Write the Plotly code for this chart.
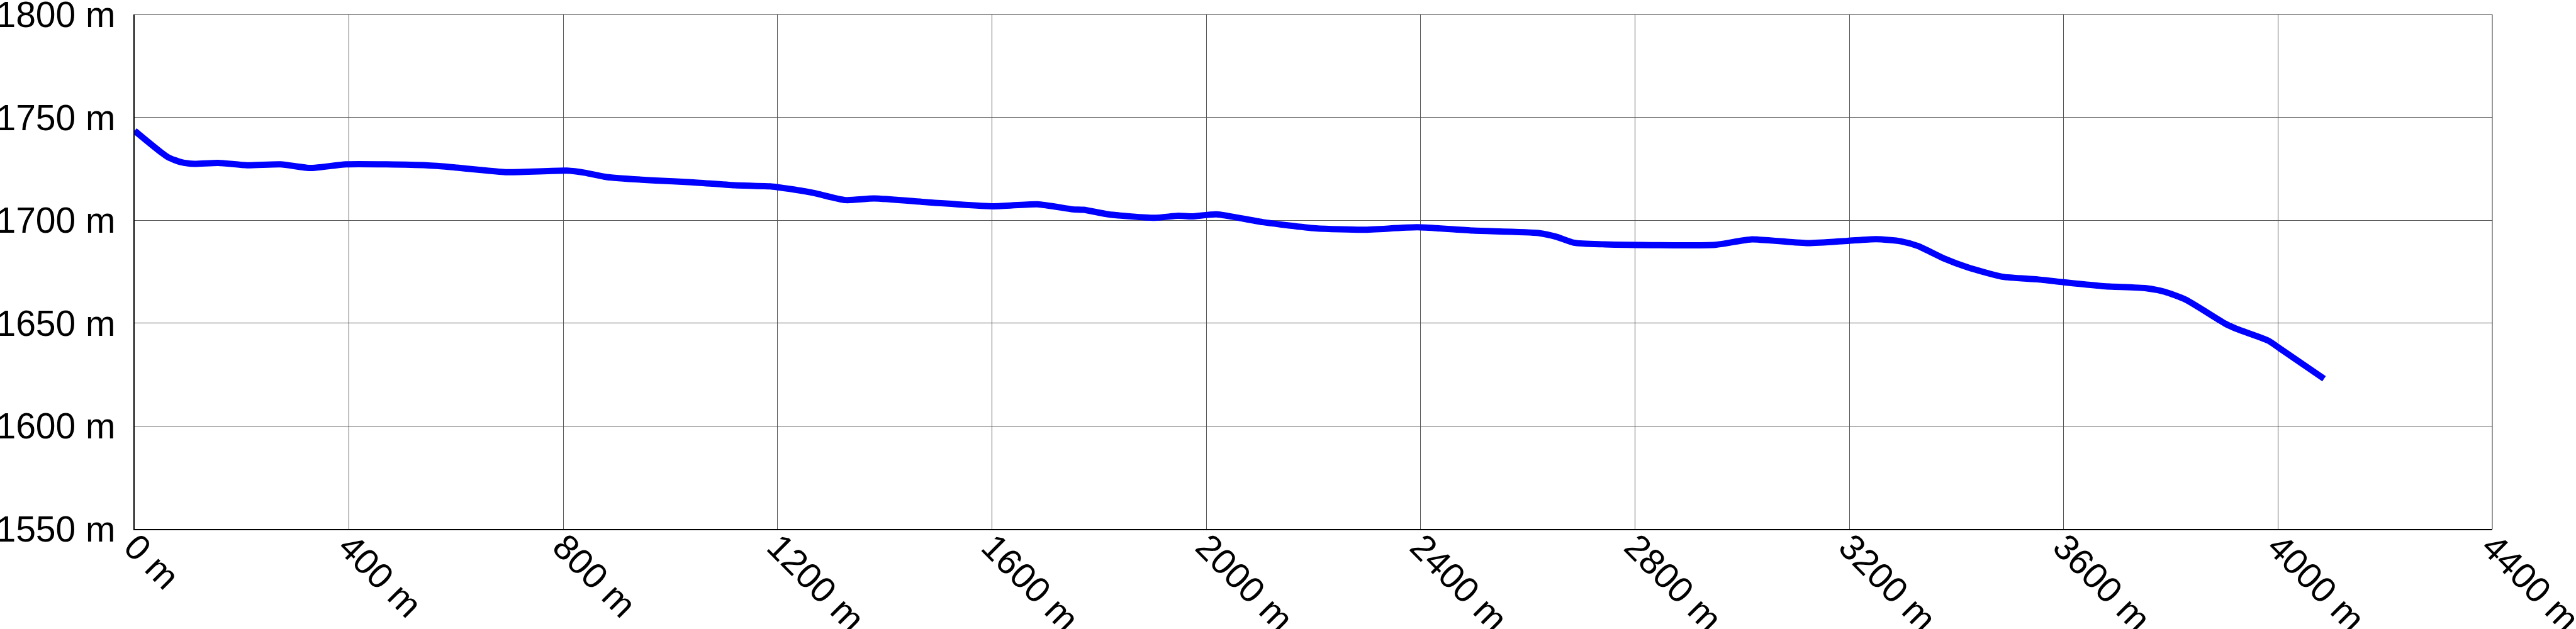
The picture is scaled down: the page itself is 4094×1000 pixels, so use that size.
import plotly.graph_objects as go

# Distance along route (m) and elevation (m)
distance_m = [0, 62, 87, 111, 156, 210, 272, 329, 395, 544, 601, 692, 807, 840, 881,
              972, 1038, 1120, 1186, 1199, 1265, 1327, 1380, 1487, 1603, 1685, 1751,
              1771, 1817, 1903, 1948, 1973, 2019, 2105, 2204, 2294, 2394, 2497, 2620,
              2653, 2686, 2744, 2950, 3016, 3123, 3197, 3250, 3296, 3329, 3378, 3420,
              3485, 3551, 3600, 3674, 3754, 3788, 3828, 3902, 3922, 3982, 4002, 4086]
elevation_m = [1743.5, 1730.7, 1728.2, 1727.4, 1727.9, 1726.7, 1727.2, 1725.4, 1727.2,
               1726.7, 1725.6, 1723.4, 1724.1, 1723.1, 1721.0, 1719.3, 1718.5, 1717.0,
               1716.5, 1716.1, 1713.4, 1709.8, 1710.6, 1708.6, 1706.8, 1707.8, 1705.3,
               1705.1, 1702.9, 1701.2, 1702.2, 1701.9, 1702.9, 1699.1, 1696.1, 1695.4,
               1696.6, 1695.0, 1693.8, 1692.0, 1689.1, 1688.3, 1688.1, 1690.7, 1688.9,
               1690.0, 1690.8, 1689.8, 1687.4, 1681.3, 1677.2, 1672.6, 1671.3, 1669.9,
               1668.0, 1667.0, 1665.3, 1661.4, 1649.7, 1647.3, 1641.5, 1638.0, 1623.0]

x_range = [0, 4400]
y_range = [1550, 1800]

fig = go.Figure()
fig.add_trace(go.Scatter(
    x=distance_m, y=elevation_m, mode="lines",
    line=dict(color="#0000FF", width=10, shape="spline", smoothing=0.6),
    showlegend=False, hoverinfo="skip",
))

font = dict(family="Arial", size=57, color="#000000")
grid_color = "#555555"

fig.update_layout(
    width=4094, height=1000,
    margin=dict(l=214, r=133, t=23, b=159, pad=0),
    paper_bgcolor="#FFFFFF", plot_bgcolor="#FFFFFF",
    font=font,
    shapes=[
        # top and right border gridlines (Plotly clips grid lines at the range ends)
        dict(type="line", xref="x domain", yref="y domain", x0=0, x1=1, y0=1, y1=1,
             line=dict(color="#999999", width=2), layer="below"),
        dict(type="line", xref="x domain", yref="y domain", x0=1, x1=1, y0=0, y1=1,
             line=dict(color="#999999", width=2), layer="below"),
    ],
)
fig.update_xaxes(
    range=x_range, dtick=400, tick0=0, ticksuffix=" m", tickangle=45,
    showgrid=True, gridcolor=grid_color, gridwidth=1,
    showline=True, linecolor="#000000", linewidth=2,
    zeroline=False, ticks="", tickfont=font, automargin=False,
    ticklabeloverflow="allow", ticklabelstandoff=-30,
)
fig.update_yaxes(
    range=y_range, dtick=50, tick0=1550, ticksuffix=" m",
    showgrid=True, gridcolor=grid_color, gridwidth=1,
    showline=True, linecolor="#000000", linewidth=2,
    zeroline=False, ticks="", tickfont=font, automargin=False,
    ticklabeloverflow="allow", ticklabelstandoff=17,
)

fig.write_html(
    "out.html",
    config={"displayModeBar": False},
    post_script="document.body.style.margin='0';document.body.style.padding='0';",
)
